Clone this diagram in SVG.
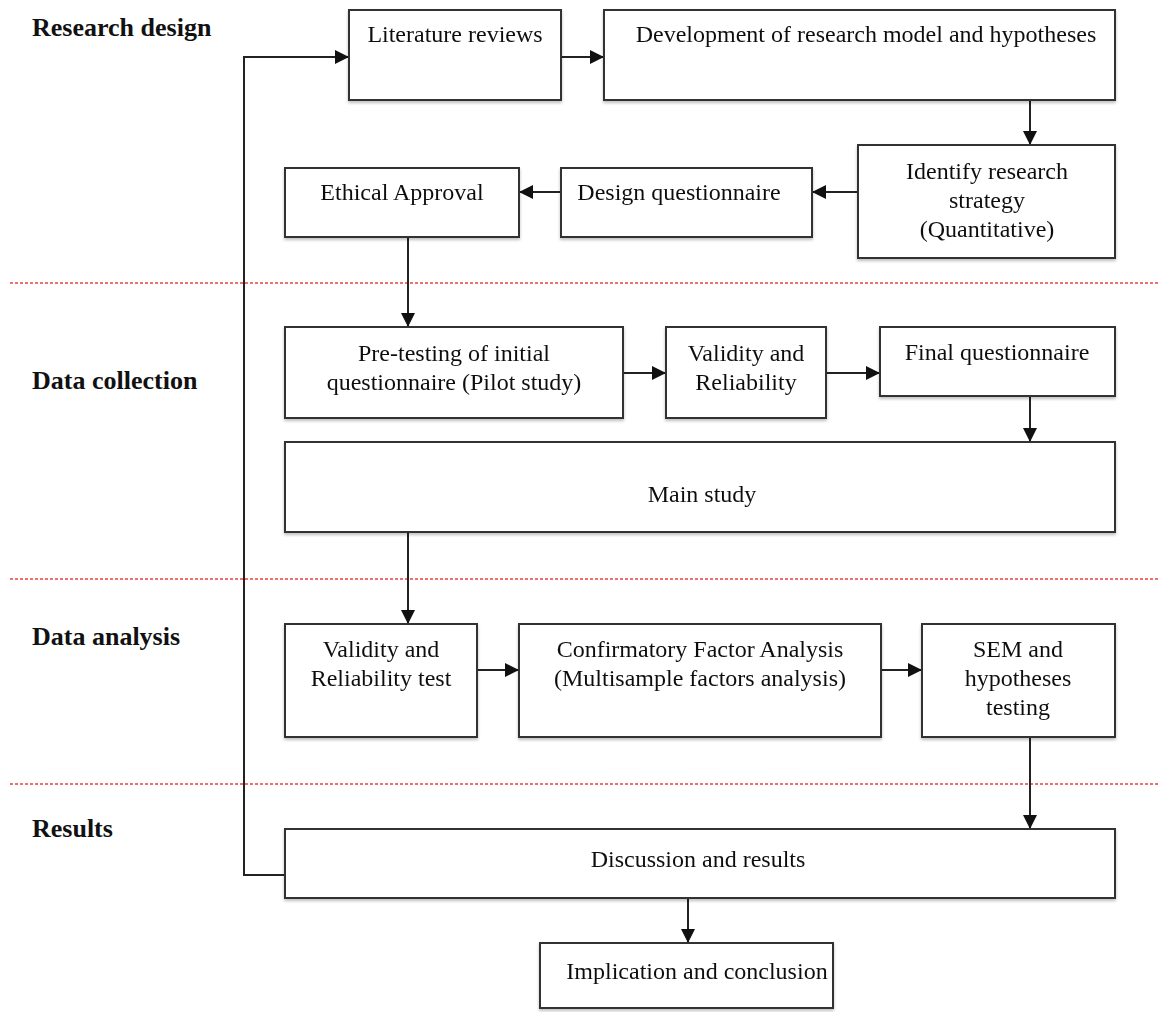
<svg xmlns="http://www.w3.org/2000/svg" width="1158" height="1012" viewBox="0 0 1158 1012">
  <style>
    .box { fill: #fff; stroke: #333; stroke-width: 2; }
    .lbl { font-family: "Liberation Serif", "Times New Roman", serif; font-size: 24px; fill: #111; text-anchor: middle; }
    .sec { font-family: "Liberation Serif", "Times New Roman", serif; font-size: 26px; font-weight: bold; fill: #111; }
    .edge { fill: none; stroke: #222; stroke-width: 2; }
    .divider { stroke: #f07070; stroke-width: 2; stroke-dasharray: 3 2; }
  </style>
  <defs>
    <marker id="arrow" viewBox="0 0 10 10" refX="10" refY="5" markerWidth="7" markerHeight="7" markerUnits="strokeWidth" orient="auto">
      <path d="M0,0 L10,5 L0,10 z" fill="#111"/>
    </marker>
    <filter id="shadow" x="-5%" y="-5%" width="110%" height="120%">
      <feDropShadow dx="0" dy="2" stdDeviation="1.5" flood-color="#000" flood-opacity="0.25"/>
    </filter>
  </defs>

  <rect width="1158" height="1012" fill="#fff"/>

  <!-- section dividers -->
  <g id="dividers">
    <line class="divider" x1="10" y1="283" x2="1158" y2="283"/>
    <line class="divider" x1="10" y1="579" x2="1158" y2="579"/>
    <line class="divider" x1="10" y1="784" x2="1158" y2="784"/>
  </g>

  <!-- section titles -->
  <g id="sections">
    <text class="sec" x="32" y="36">Research design</text>
    <text class="sec" x="32" y="389">Data collection</text>
    <text class="sec" x="32" y="645">Data analysis</text>
    <text class="sec" x="32" y="837">Results</text>
  </g>

  <!-- connectors -->
  <g id="connectors">
    <path class="edge" d="M561,57 H604" marker-end="url(#arrow)"/>
    <path class="edge" d="M1030,100 V145" marker-end="url(#arrow)"/>
    <path class="edge" d="M858,192 H812" marker-end="url(#arrow)"/>
    <path class="edge" d="M561,192 H519" marker-end="url(#arrow)"/>
    <path class="edge" d="M408,237 V327" marker-end="url(#arrow)"/>
    <path class="edge" d="M623,373 H666" marker-end="url(#arrow)"/>
    <path class="edge" d="M826,373 H880" marker-end="url(#arrow)"/>
    <path class="edge" d="M1030,396 V442" marker-end="url(#arrow)"/>
    <path class="edge" d="M408,532 V624" marker-end="url(#arrow)"/>
    <path class="edge" d="M477,670 H519" marker-end="url(#arrow)"/>
    <path class="edge" d="M881,670 H922" marker-end="url(#arrow)"/>
    <path class="edge" d="M1030,737 V829" marker-end="url(#arrow)"/>
    <path class="edge" d="M688,898 V943" marker-end="url(#arrow)"/>
    <path class="edge" d="M285,875 H244 V57 H349" marker-end="url(#arrow)"/>
  </g>

  <!-- nodes -->
  <g id="literature" filter="url(#shadow)">
    <rect class="box" x="349" y="10" width="212" height="90"/>
    <text class="lbl" x="455" y="42">Literature reviews</text>
  </g>
  <g id="development" filter="url(#shadow)">
    <rect class="box" x="604" y="10" width="511" height="90"/>
    <text class="lbl" x="866" y="42">Development of research model and hypotheses</text>
  </g>
  <g id="strategy" filter="url(#shadow)">
    <rect class="box" x="858" y="145" width="257" height="113"/>
    <text class="lbl" x="987" y="179">Identify research</text>
    <text class="lbl" x="987" y="208">strategy</text>
    <text class="lbl" x="987" y="237">(Quantitative)</text>
  </g>
  <g id="design-questionnaire" filter="url(#shadow)">
    <rect class="box" x="561" y="168" width="251" height="69"/>
    <text class="lbl" x="679" y="200">Design questionnaire</text>
  </g>
  <g id="ethical" filter="url(#shadow)">
    <rect class="box" x="285" y="168" width="234" height="69"/>
    <text class="lbl" x="402" y="200">Ethical Approval</text>
  </g>
  <g id="pretesting" filter="url(#shadow)">
    <rect class="box" x="285" y="327" width="338" height="91"/>
    <text class="lbl" x="454" y="361">Pre-testing of initial</text>
    <text class="lbl" x="454" y="390">questionnaire (Pilot study)</text>
  </g>
  <g id="validity" filter="url(#shadow)">
    <rect class="box" x="666" y="327" width="160" height="91"/>
    <text class="lbl" x="746" y="361">Validity and</text>
    <text class="lbl" x="746" y="390">Reliability</text>
  </g>
  <g id="final-questionnaire" filter="url(#shadow)">
    <rect class="box" x="880" y="327" width="235" height="69"/>
    <text class="lbl" x="997" y="360">Final questionnaire</text>
  </g>
  <g id="main-study" filter="url(#shadow)">
    <rect class="box" x="285" y="442" width="830" height="90"/>
    <text class="lbl" x="702" y="502">Main study</text>
  </g>
  <g id="validity-test" filter="url(#shadow)">
    <rect class="box" x="285" y="624" width="192" height="113"/>
    <text class="lbl" x="381" y="657">Validity and</text>
    <text class="lbl" x="381" y="686">Reliability test</text>
  </g>
  <g id="cfa" filter="url(#shadow)">
    <rect class="box" x="519" y="624" width="362" height="113"/>
    <text class="lbl" x="700" y="657">Confirmatory Factor Analysis</text>
    <text class="lbl" x="700" y="686">(Multisample factors analysis)</text>
  </g>
  <g id="sem" filter="url(#shadow)">
    <rect class="box" x="922" y="624" width="193" height="113"/>
    <text class="lbl" x="1018" y="657">SEM and</text>
    <text class="lbl" x="1018" y="686">hypotheses</text>
    <text class="lbl" x="1018" y="715">testing</text>
  </g>
  <g id="discussion" filter="url(#shadow)">
    <rect class="box" x="285" y="829" width="830" height="69"/>
    <text class="lbl" x="698" y="867">Discussion and results</text>
  </g>
  <g id="implication" filter="url(#shadow)">
    <rect class="box" x="540" y="943" width="293" height="65"/>
    <text class="lbl" x="697" y="979">Implication and conclusion</text>
  </g>
</svg>
